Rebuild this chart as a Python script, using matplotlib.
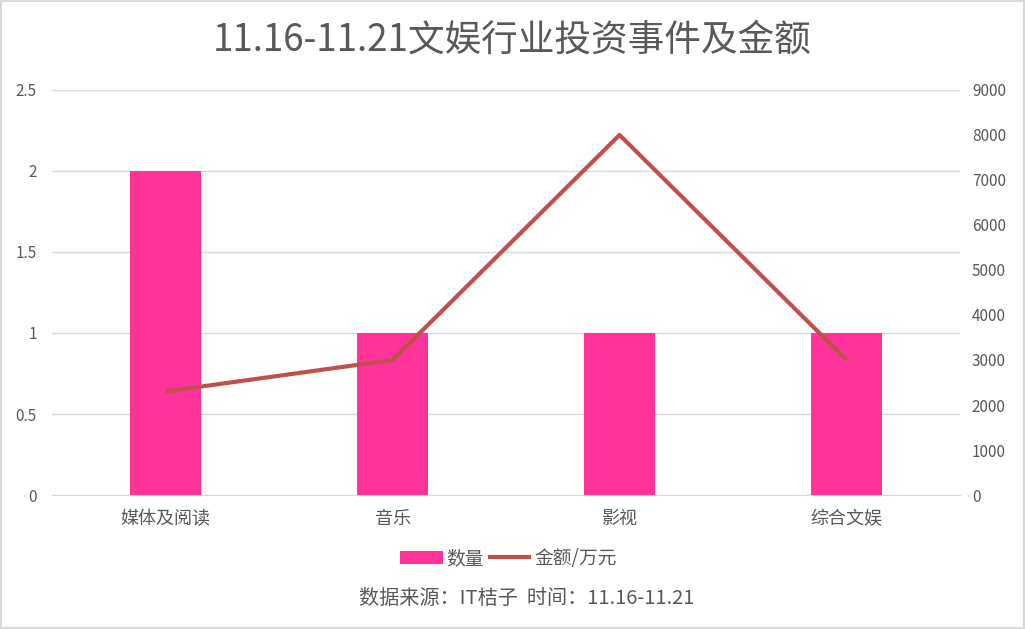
import matplotlib
matplotlib.use("Agg")
import matplotlib.pyplot as plt
from matplotlib.patches import Rectangle

plt.rcParams['font.family'] = ['Noto Sans CJK SC', 'DejaVu Sans']

categories = ['媒体及阅读', '音乐', '影视', '综合文娱']
counts = [2, 1, 1, 1]
amounts = [2300, 3000, 8000, 3000]
left_ticks = [0, 0.5, 1, 1.5, 2, 2.5]
right_ticks = [0, 1000, 2000, 3000, 4000, 5000, 6000, 7000, 8000, 9000]

txt = '#595959'
fig = plt.figure(figsize=(10.25, 6.29), dpi=100)
ax = fig.add_axes([0.0507, 0.213, 0.886, 0.644])
ax2 = ax.twinx()

x = list(range(len(categories)))
bars = ax.bar(x, counts, width=0.316, color='#FF3399', label='数量', zorder=2)
line, = ax2.plot(x, amounts, color='#C0504D', linewidth=3, label='金额/万元',
                 solid_capstyle='butt', zorder=3)

ax.set_xlim(-0.5, 3.5)
ax.set_ylim(0, 2.5)
ax2.set_ylim(0, 9000)
ax.set_yticks(left_ticks)
ax.set_yticklabels(['0', '0.5', '1', '1.5', '2', '2.5'])
ax2.set_yticks(right_ticks)
ax.set_xticks(x)
ax.set_xticklabels(categories)
ax.grid(axis='y', color='#d9d9d9', linewidth=1, zorder=0)
ax.set_axisbelow(True)
for a in (ax, ax2):
    for s in a.spines.values():
        s.set_visible(False)
ax.spines['bottom'].set_visible(True)
ax.spines['bottom'].set_color('#d9d9d9')
ax.tick_params(axis='y', length=0, labelsize=11, labelcolor=txt, pad=11)
ax2.tick_params(axis='y', length=0, labelsize=11, labelcolor=txt, pad=8.5)
ax.tick_params(axis='x', length=0, labelsize=13, labelcolor=txt, pad=11)

fig.text(0.5, 0.937, '11.16-11.21文娱行业投资事件及金额', ha='center', va='center',
         fontsize=26.4, color=txt)
fig.legend(handles=[bars, line], labels=['数量', '金额/万元'], loc='center',
           bbox_to_anchor=(0.496, 0.112), ncol=2, frameon=False, fontsize=13.5,
           labelcolor=txt, handlelength=2.3, handletextpad=0.2, columnspacing=0.2)
fig.text(0.514, 0.048, '数据来源：IT桔子  时间：11.16-11.21', ha='center', va='center',
         fontsize=14.5, color=txt)
fig.patches.append(Rectangle((0.001, 0.001), 0.998, 0.997, transform=fig.transFigure,
                             fill=False, edgecolor='#d9d9d9', linewidth=1.5))
fig.savefig('out.png', dpi=100)
